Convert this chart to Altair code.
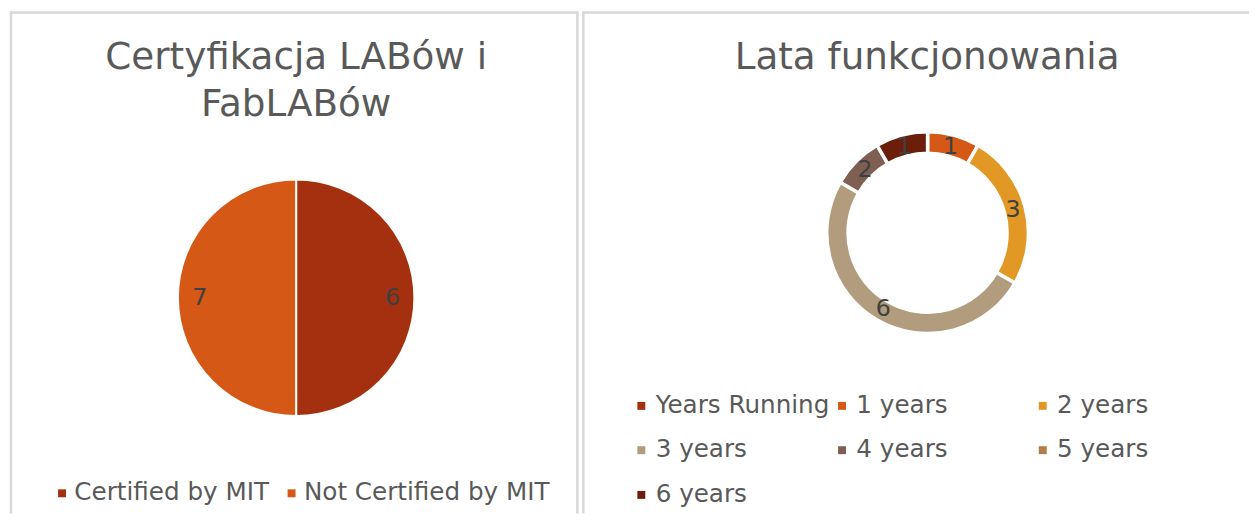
import altair as alt
import pandas as pd

# ---- data ----
cert_categories = ["Certified by MIT", "Not Certified by MIT"]
cert_labels = [6, 7]          # numbers printed on the slices
cert_shares = [1, 1]          # slice sizes as drawn (two equal halves)
cert_colors = ["#A5300F", "#D55816"]

year_categories = ["1 years", "2 years", "3 years", "4 years", "6 years"]
year_labels = [1, 3, 6, 2, 1]  # numbers printed on the ring
year_shares = [1, 3, 6, 1, 1]  # ring segment sizes as drawn
legend_categories = ["Years Running", "1 years", "2 years", "3 years",
                     "4 years", "5 years", "6 years"]
legend_colors = ["#A5300F", "#D55816", "#E19825", "#B19C7D",
                 "#7F5F52", "#B27D49", "#6B1F0A"]

left_title = ["Certyfikacja LABów i", "FabLABów"]
right_title = "Lata funkcjonowania"

# ---- styling ----
FONT = "DejaVu Sans"
TEXT_GREY = "#595959"
LABEL_GREY = "#404040"
BORDER = "#D9D9D9"
W1, W2, H = 572, 671, 505

cert_df = pd.DataFrame({"category": cert_categories, "share": cert_shares,
                        "label": cert_labels, "order": list(range(len(cert_categories)))})
year_df = pd.DataFrame({"category": year_categories, "share": year_shares,
                        "label": year_labels, "order": list(range(len(year_categories)))})
one = pd.DataFrame({"k": [0]})


def borders(lines):
    layers = []
    for spec in lines:
        layers.append(alt.Chart(one).mark_rule(color=BORDER, strokeWidth=2.5).encode(**spec))
    return layers


# ---- left panel: pie ----
cx1, cy1 = 288, 288
pie = alt.Chart(cert_df).mark_arc(radius=119, stroke="white", strokeWidth=2).encode(
    theta=alt.Theta("share:Q", stack=True),
    order=alt.Order("order:Q"),
    color=alt.Color(
        "category:N",
        scale=alt.Scale(domain=cert_categories, range=cert_colors),
        legend=alt.Legend(
            title=None, orient="none", legendX=40, legendY=472,
            direction="horizontal", symbolType="square", symbolSize=64,
            symbolStrokeWidth=0, labelFont=FONT, labelFontSize=24.8,
            labelColor=TEXT_GREY, labelLimit=400, labelOffset=0,
            columnPadding=10, padding=0,
        ),
    ),
    x=alt.value(cx1), y=alt.value(cy1),
)
pie_text = alt.Chart(cert_df).mark_text(
    radius=97, font=FONT, fontSize=24, color=LABEL_GREY
).encode(
    theta=alt.Theta("share:Q", stack=True),
    order=alt.Order("order:Q"),
    text=alt.Text("label:Q"),
    x=alt.value(cx1), y=alt.value(cy1),
)
title_l = alt.Chart(one).mark_text(
    text=left_title, font=FONT, fontSize=37.5, color=TEXT_GREY,
    align="center", baseline="alphabetic", lineHeight=47,
).encode(x=alt.value(288), y=alt.value(58))

left = alt.layer(
    *borders([
        dict(x=alt.value(1), y=alt.value(0), y2=alt.value(H)),
        dict(x=alt.value(W1 - 1), y=alt.value(0), y2=alt.value(H)),
        dict(y=alt.value(1), x=alt.value(0), x2=alt.value(W1)),
    ]),
    pie, pie_text, title_l,
).properties(width=W1, height=H)

# ---- right panel: doughnut ----
cx2, cy2 = 347.5, 222.5
ring = alt.Chart(year_df).mark_arc(
    radius=101.5, radius2=80, stroke="white", strokeWidth=3.5
).encode(
    theta=alt.Theta("share:Q", stack=True),
    order=alt.Order("order:Q"),
    color=alt.Color(
        "category:N",
        scale=alt.Scale(domain=legend_categories, range=legend_colors),
        legend=alt.Legend(
            title=None, orient="none", legendX=47, legendY=384,
            direction="horizontal", columns=3, gridAlign="all",
            symbolType="square", symbolSize=64, symbolStrokeWidth=0,
            labelFont=FONT, labelFontSize=24.8, labelColor=TEXT_GREY,
            labelLimit=400, labelOffset=2, columnPadding=0, rowPadding=19,
            padding=0,
        ),
    ),
    x=alt.value(cx2), y=alt.value(cy2),
)
ring_text = alt.Chart(year_df).mark_text(
    radius=89, font=FONT, fontSize=24, color=LABEL_GREY
).encode(
    theta=alt.Theta("share:Q", stack=True),
    order=alt.Order("order:Q"),
    text=alt.Text("label:Q"),
    x=alt.value(cx2), y=alt.value(cy2),
)
title_r = alt.Chart(one).mark_text(
    text=right_title, font=FONT, fontSize=37.5, color=TEXT_GREY,
    align="center", baseline="alphabetic",
).encode(x=alt.value(347), y=alt.value(58))

right = alt.layer(
    *borders([
        dict(x=alt.value(1), y=alt.value(0), y2=alt.value(H)),
        dict(y=alt.value(1), x=alt.value(0), x2=alt.value(W2)),
    ]),
    ring, ring_text, title_r,
).properties(width=W2, height=H)

chart = (
    alt.hconcat(left, right, spacing=0)
    .resolve_scale(color="independent", theta="independent")
    .properties(padding=0, background="white")
    .configure_view(stroke="transparent")
)

chart.save("out.html", embed_options={"renderer": "svg", "actions": False})
